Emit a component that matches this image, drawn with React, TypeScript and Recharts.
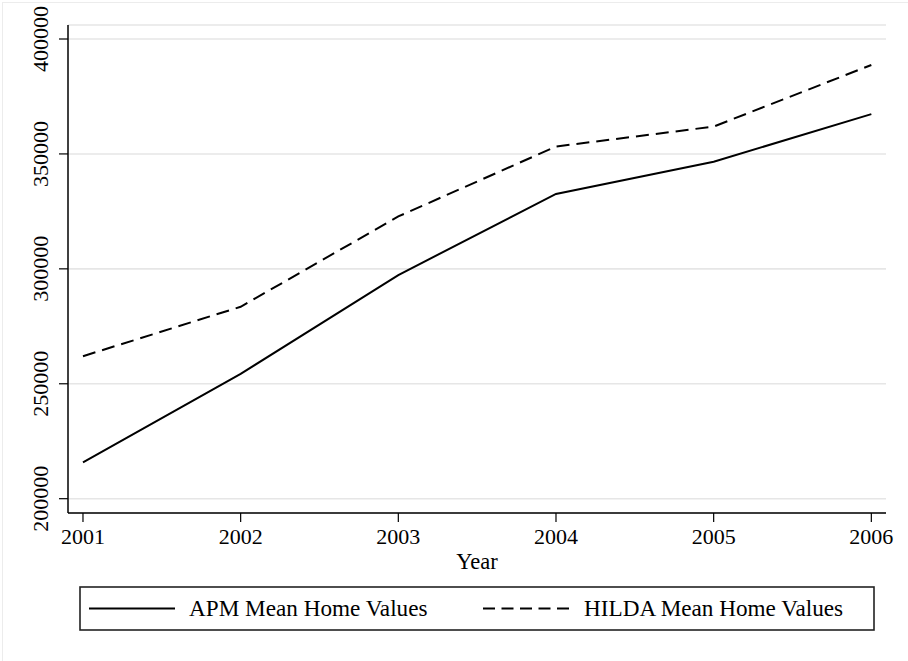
import React from 'react';
import { LineChart, Line, XAxis, YAxis, CartesianGrid, Legend } from 'recharts';

const years = [2001, 2002, 2003, 2004, 2005, 2006];
const apmValues = [215800, 254300, 297300, 332600, 346600, 367300];
const hildaValues = [262000, 283500, 322800, 353200, 361900, 388700];
const yTicks = [200000, 250000, 300000, 350000, 400000];
const xTicks = [2001, 2002, 2003, 2004, 2005, 2006];
const seriesNames = ['APM Mean Home Values', 'HILDA Mean Home Values'];

const data = years.map((y, i) => ({ year: y, apm: apmValues[i], hilda: hildaValues[i] }));

const FONT = '"Liberation Serif", "Times New Roman", serif';

const XTick = (props: any) => {
  const { x, y, payload } = props;
  return (
    <text x={x} y={y + 22} textAnchor="middle" fontFamily={FONT} fontSize={22} fill="#000">
      {payload.value}
    </text>
  );
};

const YTick = (props: any) => {
  const { x, y, payload } = props;
  const cx = x - 10.5;
  return (
    <text
      x={cx}
      y={y}
      textAnchor="middle"
      transform={`rotate(-90, ${cx}, ${y})`}
      fontFamily={FONT}
      fontSize={22}
      fill="#000"
    >
      {payload.value}
    </text>
  );
};

const LegendBox = () => (
  <svg width={797} height={46} style={{ display: 'block' }}>
    <rect x={1} y={1} width={794} height={43} fill="#fff" stroke="#222" strokeWidth={1.6} />
    <line x1={10} y1={22.5} x2={96} y2={22.5} stroke="#000" strokeWidth={2} />
    <text x={110} y={30} fontFamily={FONT} fontSize={23.2} fill="#000">{seriesNames[0]}</text>
    <line x1={404} y1={22.5} x2={490} y2={22.5} stroke="#000" strokeWidth={2} strokeDasharray="12 6.5" />
    <text x={505} y={30} fontFamily={FONT} fontSize={23.2} fill="#000">{seriesNames[1]}</text>
  </svg>
);

export default function App() {
  return (
    <div style={{ position: 'absolute', left: 0, top: 0, width: 908, height: 661, background: '#fff', overflow: 'hidden' }}>
      <div style={{ position: 'absolute', left: 2, top: 2, width: 920, height: 680, border: '1px solid #ececec' }} />
      <div style={{ position: 'absolute', left: 0, top: 0 }}>
        <LineChart width={908} height={661} data={data} margin={{ top: 25, right: 22, left: 0, bottom: 0 }}>
          <CartesianGrid horizontal={true} vertical={false} stroke="#e6e6e6" strokeWidth={1.6} />
          <XAxis
            dataKey="year"
            type="number"
            domain={[2000.905, 2006.093]}
            allowDataOverflow
            ticks={xTicks}
            tickSize={9}
            tickMargin={0}
            height={148}
            axisLine={{ stroke: '#000', strokeWidth: 1.5 }}
            tickLine={{ stroke: '#000', strokeWidth: 1.2 }}
            tick={<XTick />}
            label={{ value: 'Year', position: 'insideTop', offset: 40, fontFamily: FONT, fontSize: 22.5, fill: '#000' }}
          />
          <YAxis
            type="number"
            domain={[193777, 406092]}
            allowDataOverflow
            ticks={yTicks}
            tickSize={9}
            tickMargin={0}
            width={68}
            axisLine={{ stroke: '#000', strokeWidth: 1.5 }}
            tickLine={{ stroke: '#000', strokeWidth: 1.2 }}
            tick={<YTick />}
          />
          <Legend
            layout="horizontal"
            verticalAlign="middle"
            align="center"
            content={<LegendBox />}
            wrapperStyle={{ position: 'absolute', left: 79, top: 586, width: 797, height: 46 }}
          />
          <Line
            type="linear"
            dataKey="apm"
            name={seriesNames[0]}
            stroke="#000"
            strokeWidth={2}
            dot={false}
            isAnimationActive={false}
          />
          <Line
            type="linear"
            dataKey="hilda"
            name={seriesNames[1]}
            stroke="#000"
            strokeWidth={2}
            strokeDasharray="13 7"
            dot={false}
            isAnimationActive={false}
          />
        </LineChart>
      </div>
    </div>
  );
}
